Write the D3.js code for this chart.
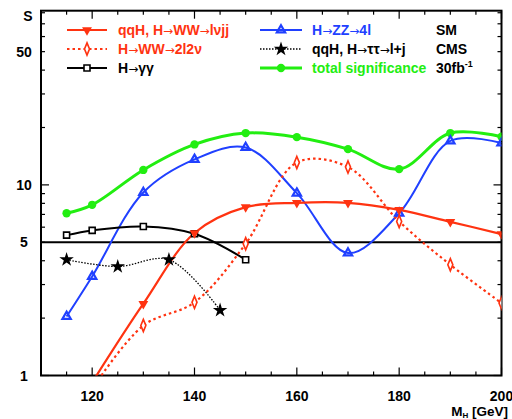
<!DOCTYPE html>
<html><head><meta charset="utf-8">
<script src="https://cdn.jsdelivr.net/npm/d3@7"></script>
<style>body{margin:0;background:#fff}svg{display:block}text{font-family:"Liberation Sans",Arial,sans-serif;font-weight:bold}.ar{font-family:"DejaVu Sans";font-weight:normal}</style>
</head><body><svg id="c" width="512" height="419"></svg>
<script>
const massWWlvjj = [120,130,140,150,160,170,180,190,200];
const valWWlvjj  = [0.92,2.38,5.59,7.64,8.05,8.05,7.4,6.4,5.52];
const massWW2l2v = [120,130,140,150,160,170,180,190,200];
const valWW2l2v  = [0.85,1.83,2.42,4.91,13.1,12.4,6.43,3.81,2.40];
const massGG = [115,120,130,140,150];
const valGG  = [5.45,5.77,6.05,5.54,4.05];
const massZZ = [115,120,130,140,150,160,170,180,190,200];
const valZZ  = [2.04,3.31,9.12,13.6,15.7,9.05,4.39,7.1,17.0,16.6];
const massTT = [115,125,135,145];
const valTT  = [4.05,3.73,4.05,2.2];
const massTot = [115,120,130,140,150,160,170,180,190,200];
const valTot  = [7.1,7.86,11.98,16.3,18.7,17.8,15.4,12.1,18.7,17.9];
const xTicks = [120,140,160,180,200];
const yLabels = [1,5,10,50];
const legendLeft = ["qqH, H\u2192WW\u2192l\u03BDjj","H\u2192WW\u21922l2\u03BD","H\u2192\u03B3\u03B3"];
const legendRight = ["H\u2192ZZ\u21924l","qqH, H\u2192\u03C4\u03C4\u2192l+j","total significance"];

const RED="#ff3311", BLUE="#2040ff", GREEN="#22ee11";
const L=41,R=501.5,T=10.7,B=375.5;
const svg=d3.select("#c");
const x=d3.scaleLinear().domain([110,200]).range([L,R]);
const y=d3.scaleLog().domain([1,82]).range([B,T]);

svg.append("defs").append("clipPath").attr("id","clip").append("rect")
  .attr("x",L).attr("y",T).attr("width",R-L).attr("height",B-T);

const xMinor=d3.range(110,201,5);
const g=svg.append("g").attr("stroke","#000").attr("stroke-width",1.2);
xMinor.forEach(v=>{
  const len = v%20===0?8:4;
  g.append("line").attr("x1",x(v)).attr("x2",x(v)).attr("y1",B).attr("y2",B-len);
  g.append("line").attr("x1",x(v)).attr("x2",x(v)).attr("y1",T).attr("y2",T+len);
});
const yMinor=[1,2,3,4,5,6,7,8,9,10,20,30,40,50,60,70,80];
yMinor.forEach(v=>{
  const len = (v===1||v===10)?8:4;
  g.append("line").attr("x1",L).attr("x2",L+len).attr("y1",y(v)).attr("y2",y(v));
  g.append("line").attr("x1",R).attr("x2",R-len).attr("y1",y(v)).attr("y2",y(v));
});
svg.append("rect").attr("x",L).attr("y",T).attr("width",R-L).attr("height",B-T)
  .attr("fill","none").attr("stroke","#000").attr("stroke-width",2);

xTicks.forEach(v=>svg.append("text").attr("x",x(v)).attr("y",401).attr("text-anchor","middle")
  .attr("font-size",14).text(v));
yLabels.forEach(v=>svg.append("text").attr("x",24).attr("y",y(v)+5).attr("text-anchor","middle")
  .attr("font-size",14).text(v));
svg.append("text").attr("x",28).attr("y",21).attr("text-anchor","middle").attr("font-size",14).text("S");
const xl=svg.append("text").attr("x",508).attr("y",416).attr("text-anchor","end").attr("font-size",13.5);
xl.append("tspan").text("M");
xl.append("tspan").attr("font-size",8).attr("dy",2).text("H");
xl.append("tspan").attr("dy",-2).text(" [GeV]");

svg.append("line").attr("x1",L).attr("x2",R).attr("y1",y(5)).attr("y2",y(5))
  .attr("stroke","#000").attr("stroke-width",2);

const plot=svg.append("g").attr("clip-path","url(#clip)");
const line=d3.line().curve(d3.curveCatmullRom.alpha(0.5));
function curve(ms,vs,color,w,dash){
  const p=plot.append("path").attr("d",line(ms.map((m,i)=>[x(m),y(vs[i])])))
    .attr("fill","none").attr("stroke",color).attr("stroke-width",w);
  if(dash) p.attr("stroke-dasharray",dash);
}
curve(massTot,valTot,GREEN,3);
curve(massZZ,valZZ,BLUE,2);
curve(massGG,valGG,"#000",2);
curve(massTT,valTT,"#000",1.3,"1.5,1.5");
curve(massWWlvjj,valWWlvjj,RED,2.2);
curve(massWW2l2v,valWW2l2v,RED,2.2,"2.5,3");

const sym={
  tri:d3.symbol().type(d3.symbolTriangle).size(30),
  down:d3.symbol().type(d3.symbolTriangle).size(42),
  diam:d3.symbol().type(d3.symbolDiamond).size(30),
  sq:d3.symbol().type(d3.symbolSquare).size(36),
  star:d3.symbol().type(d3.symbolStar).size(65),
  circ:d3.symbol().type(d3.symbolCircle).size(55)
};
function marker(gg,cx,cy,kind,color){
  const p=gg.append("path").attr("transform",`translate(${cx},${cy})`+(kind==="down"?" rotate(180)":""));
  if(kind==="down") p.attr("d",sym.down()).attr("fill",color);
  else if(kind==="tri") p.attr("d",sym.tri()).attr("fill","none").attr("stroke",color).attr("stroke-width",2.2);
  else if(kind==="diam") p.attr("d",sym.diam()).attr("fill","#fff").attr("stroke",color).attr("stroke-width",1.8).attr("transform",`translate(${cx},${cy}) scale(0.85,1.2)`);
  else if(kind==="sq") p.attr("d",sym.sq()).attr("fill","#fff").attr("stroke",color).attr("stroke-width",1.6);
  else if(kind==="star") p.attr("d",sym.star()).attr("fill",color);
  else if(kind==="circ") p.attr("d",sym.circ()).attr("fill",color);
}
const mk=svg.append("g").attr("clip-path","url(#clip)");
massTot.forEach((m,i)=>marker(mk,x(m),y(valTot[i]),"circ",GREEN));
massZZ.forEach((m,i)=>marker(mk,x(m),y(valZZ[i]),"tri",BLUE));
massGG.forEach((m,i)=>marker(mk,x(m),y(valGG[i]),"sq","#000"));
massTT.forEach((m,i)=>marker(mk,x(m),y(valTT[i]),"star","#000"));
massWWlvjj.forEach((m,i)=>marker(mk,x(m),y(valWWlvjj[i]),"down",RED));
massWW2l2v.forEach((m,i)=>marker(mk,x(m),y(valWW2l2v[i]),"diam",RED));

function richText(t,str){
  str.split(/(\u2192)/).forEach(part=>{
    if(!part) return;
    const s=t.append("tspan").text(part);
    if(part==="\u2192") s.attr("class","ar").attr("font-size",12);
  });
}
const rows=[30,49,68];
const lg=svg.append("g");
const leftSpec=[[RED,2.2,null,"down",RED],[RED,2.2,"2.5,3","diam",RED],["#000",2,null,"sq","#000"]];
const rightSpec=[[BLUE,2,null,"tri",BLUE],["#000",1.3,"1.5,1.5","star","#000"],[GREEN,3,null,"circ",GREEN]];
function legendCol(x0,x1,tx,spec,labels){
  spec.forEach((s,i)=>{
    const l=lg.append("line").attr("x1",x0).attr("x2",x1).attr("y1",rows[i]).attr("y2",rows[i])
      .attr("stroke",s[0]).attr("stroke-width",s[1]);
    if(s[2]) l.attr("stroke-dasharray",s[2]);
    marker(lg,(x0+x1)/2,rows[i],s[3],s[4]);
    const t=lg.append("text").attr("x",tx).attr("y",rows[i]+5).attr("font-size",14).attr("fill",s[0]);
    richText(t,labels[i]);
  });
}
legendCol(67,107,118,leftSpec,legendLeft);
legendCol(260,302,312,rightSpec,legendRight);
lg.append("text").attr("x",436).attr("y",35).attr("font-size",14).text("SM");
lg.append("text").attr("x",436).attr("y",54).attr("font-size",14).text("CMS");
const fb=lg.append("text").attr("x",436).attr("y",73).attr("font-size",14);
fb.append("tspan").text("30fb");
fb.append("tspan").attr("font-size",9).attr("dy",-6).text("-1");
</script></body></html>
